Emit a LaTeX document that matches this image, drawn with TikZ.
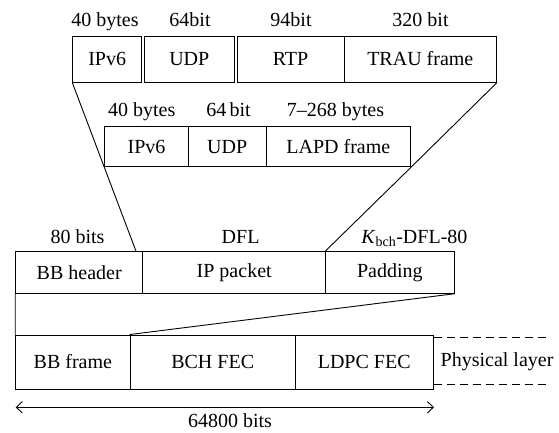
\documentclass[tikz,border=0pt]{standalone}
\usepackage{fontspec}
\setmainfont{Liberation Serif}
\usetikzlibrary{positioning,calc,arrows.meta}

\tikzset{
  field/.style={draw, fill=white, line width=0.9pt, inner sep=0pt},
  lbl/.style={inner sep=0pt, anchor=base},
  phy/.style={line width=0.9pt, dash pattern=on 8pt off 5pt},
}

\begin{document}
\begin{tikzpicture}[x=1pt,y=-1pt,font=\fontsize{20}{24}\selectfont]
    \useasboundingbox (0,0) rectangle (559,432);
    % RTP over UDP/IPv6
    \node[field,minimum width=69pt,minimum height=46pt] (ipA) at (107.2,59) {IPv6};
    \node[field,minimum width=90.5pt,minimum height=46pt] (udpA) at (189.3,59) {UDP};
    \node[field,minimum width=107pt,minimum height=46pt] (rtp) at (290.5,59) {RTP};
    \node[field,minimum width=152.7pt,minimum height=46pt] (trau) at (420.3,59) {TRAU frame};
    \node[lbl] (szIpA) at (105,26.7) {40 bytes};
    \node[lbl] (szUdpA) at (190,26.7) {64bit};
    \node[lbl] (szRtp) at (291,26.7) {94bit};
    \node[lbl] (szTrau) at (420.5,26.7) {320 bit};

    % LAPD over UDP/IPv6
    \node[field,minimum width=83.6pt,minimum height=40pt] (ipB) at (146.5,146.7) {IPv6};
    \node[field,minimum width=77.7pt,minimum height=40pt] (udpB) at (227.2,146.7) {UDP};
    \node[field,minimum width=144.7pt,minimum height=40pt] (lapd) at (338.3,146.7) {LAPD frame};
    \node[lbl] (szIpB) at (141.7,116.7) {40 bytes};
    \node[lbl] (szUdpB) at (228.5,116.7) {64\,bit};
    \node[lbl] (szLapd) at (335.5,116.7) {7--268 bytes};

    % BB frame
    \node[field,minimum width=127pt,minimum height=41.6pt] (bbh) at (79.2,272.5) {BB header};
    \node[field,minimum width=183pt,minimum height=41.6pt] (ipp) at (234.2,272.5) {IP packet};
    \node[field,minimum width=128.3pt,minimum height=41.6pt] (pad) at (389.8,272.5) {Padding};
    \node[lbl] (szBbh) at (77.5,243.4) {80 bits};
    \node[lbl] (szIpp) at (240.6,243.4) {DFL};
    \node[lbl] (szPad) at (414.4,243.4) {\textit{K}\textsubscript{bch}-DFL-80};

    % FEC frame
    \node[field,minimum width=114.3pt,minimum height=54pt] (bbf) at (72.9,362) {BB frame};
    \node[field,minimum width=165.3pt,minimum height=54pt] (bch) at (212.7,362) {BCH FEC};
    \node[field,minimum width=137.7pt,minimum height=54pt] (ldpc) at (364.2,362) {LDPC FEC};
    \node[inner sep=0pt,right=7pt of ldpc] (phyl) {Physical layer};

    \coordinate (hdrTip) at ($(ipA.south west)!2!(ipB.south west)$);
    \coordinate (phyT) at (545.7,337.7);
    \coordinate (phyB) at (545.7,384.3);
    \coordinate (arL) at (15.7,407.3);
    \coordinate (arR) at (434,407.3);

    \draw[line width=0.9pt] (ipA.south west) -- (ipB.south west) -- (hdrTip);
    \draw[line width=0.9pt] (trau.south east) -- (lapd.south east) -- (pad.north west);
    \draw[line width=0.9pt] (bbh.south west) -- (bbf.north west);
    \draw[line width=0.9pt] (pad.south east) -- (bch.north west);
    \draw[phy] (ldpc.east |- phyT) -- (phyT);
    \draw[phy] (ldpc.east |- phyB) -- (phyB);

    \draw[line width=0.9pt, {Straight Barb[length=6pt,width=11.5pt]}-{Straight Barb[length=6pt,width=11.5pt]}] (arL) -- (arR);
    \node[lbl] (frameLen) at (230,427.6) {64800 bits};
\end{tikzpicture}
\end{document}
